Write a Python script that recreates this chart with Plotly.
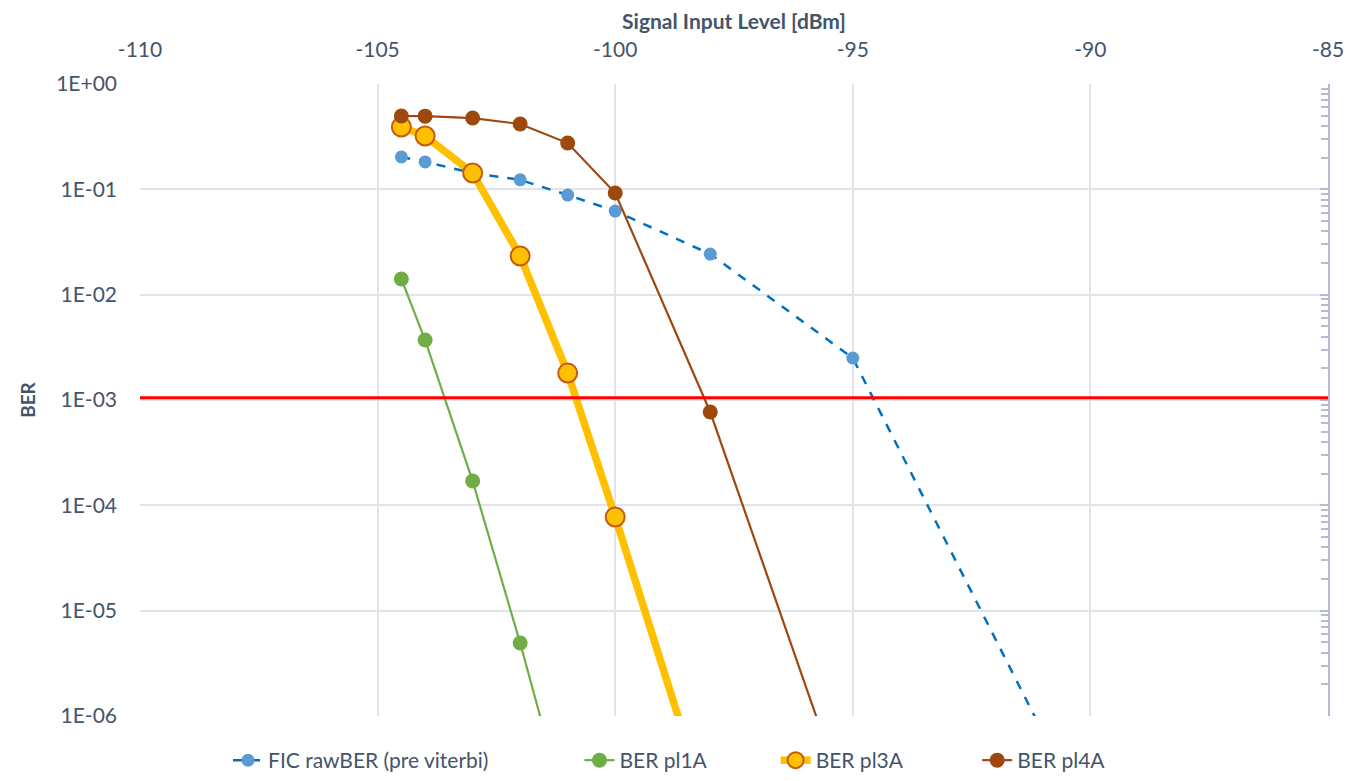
import plotly.graph_objects as go

# Data
fic_x = [-104.5, -104, -103, -102, -101, -100, -98, -95, -90]
fic_y = [0.203, 0.182, 0.143, 0.123, 0.0883, 0.0622, 0.0243, 0.0025, 9e-8]

pl1a_x = [-104.5, -104, -103, -102, -101]
pl1a_y = [0.0141, 0.00371, 1.70e-4, 4.93e-6, 1.1e-7]

pl3a_x = [-104.5, -104, -103, -102, -101, -100, -98]
pl3a_y = [0.391, 0.321, 0.143, 0.0233, 1.80e-3, 7.75e-5, 1.07e-7]

pl4a_x = [-104.5, -104, -103, -102, -101, -100, -98, -95]
pl4a_y = [0.497, 0.495, 0.475, 0.417, 0.275, 0.0923, 7.69e-4, 1.0e-7]

ber_limit = 1.05e-3

x_tickvals = [-110, -105, -100, -95, -90, -85]
x_ticktext = ["-110", "-105", "-100", "-95", "-90", "-85"]
y_tickvals = [1, 1e-1, 1e-2, 1e-3, 1e-4, 1e-5, 1e-6]
y_ticktext = ["1E+00", "1E-01", "1E-02", "1E-03", "1E-04", "1E-05", "1E-06"]

TXT = "#44546A"
GRID = "#E1E4EA"
FONT = "Lato, 'Open Sans', sans-serif"
NB = "\u00a0"

fig = go.Figure()

fig.add_trace(go.Scatter(
    x=fic_x, y=fic_y, name="FIC rawBER (pre viterbi)" + NB * 16, mode="lines+markers",
    line=dict(color="#0070C0", width=2.5, dash="dash"),
    marker=dict(color="#5B9BD5", size=13),
))
fig.add_trace(go.Scatter(
    x=pl1a_x, y=pl1a_y, name="BER pl1A" + NB * 12, mode="lines+markers",
    line=dict(color="#70AD47", width=2.2),
    marker=dict(color="#70AD47", size=15),
))
fig.add_trace(go.Scatter(
    x=pl3a_x, y=pl3a_y, name="BER pl3A" + NB * 13, mode="lines+markers",
    line=dict(color="#FFC000", width=7.5),
    marker=dict(color="#FFC000", size=19, line=dict(color="#C55A11", width=2)),
))
fig.add_trace(go.Scatter(
    x=pl4a_x, y=pl4a_y, name="BER pl4A", mode="lines+markers",
    line=dict(color="#9E480E", width=2.2),
    marker=dict(color="#9E480E", size=15),
))

# Right-side log axis with minor ticks (no labels)
fig.add_trace(go.Scatter(x=[None], y=[None], yaxis="y2", showlegend=False, hoverinfo="skip"))

fig.add_shape(type="line", xref="x", yref="y", x0=-110, x1=-85, y0=ber_limit, y1=ber_limit,
              line=dict(color="#FF0000", width=2.8), layer="above")

fig.update_layout(
    width=1350, height=773,
    paper_bgcolor="white", plot_bgcolor="white",
    margin=dict(l=132, r=30, t=76, b=65),
    font=dict(family=FONT, color=TXT, size=21),
    xaxis=dict(
        side="top", range=[-110, -85], tickvals=x_tickvals, ticktext=x_ticktext,
        showgrid=True, gridcolor=GRID, gridwidth=1.5, zeroline=False, showline=False, ticks="",
        automargin=False, ticklabelstandoff=22,
        title=dict(text="<b>Signal Input Level [dBm]</b>", font=dict(size=21, color=TXT), standoff=7),
        tickfont=dict(size=21, color=TXT),
    ),
    yaxis=dict(
        type="log", range=[-6, 0], tickvals=y_tickvals, ticktext=y_ticktext,
        showgrid=True, gridcolor=GRID, gridwidth=1.5, zeroline=False, showline=False, ticks="",
        automargin=False, ticklabelstandoff=22,
        title=dict(text="<b>BER</b>", font=dict(size=19, color=TXT), standoff=15),
        tickfont=dict(size=21, color=TXT),
    ),
    yaxis2=dict(
        type="log", range=[-6, 0], overlaying="y", side="right", showgrid=False,
        showticklabels=False, showline=True, linecolor="#B4BDCF", linewidth=1.5,
        ticks="inside", ticklen=8, tickwidth=1.5, tickcolor="#B4BDCF",
        tickvals=y_tickvals, automargin=False,
        minor=dict(ticks="inside", ticklen=7, tickwidth=1.5, tickcolor="#B4BDCF", dtick="D1"),
        zeroline=False,
    ),
    legend=dict(orientation="h", xref="container", x=0.49, xanchor="center",
                yref="container", y=-0.012, yanchor="bottom",
                font=dict(size=21, color=TXT)),
    showlegend=True,
)

fig.write_html("out.html")
